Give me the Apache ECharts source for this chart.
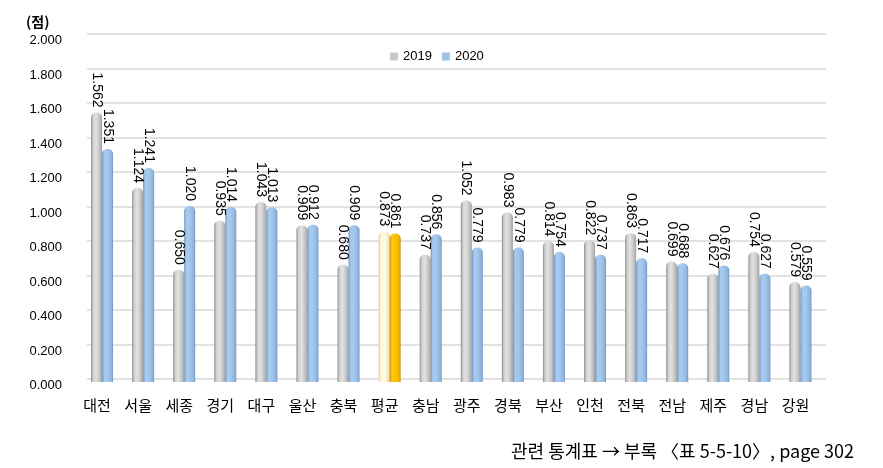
<!DOCTYPE html>
<html><head><meta charset="utf-8">
<script src="https://cdn.jsdelivr.net/npm/echarts@6/dist/echarts.min.js"></script>
<style>html,body{margin:0;padding:0;background:#fff}#c{width:883px;height:468px}</style>
</head><body><div id="c"></div>
<script>
const categories = ['대전','서울','세종','경기','대구','울산','충북','평균','충남','광주','경북','부산','인천','전북','전남','제주','경남','강원'];
const v2019 = [1.562,1.124,0.650,0.935,1.043,0.909,0.680,0.873,0.737,1.052,0.983,0.814,0.822,0.863,0.699,0.627,0.754,0.579];
const v2020 = [1.351,1.241,1.020,1.014,1.013,0.912,0.909,0.861,0.856,0.779,0.779,0.754,0.737,0.717,0.688,0.676,0.627,0.559];
const yTicks = [0,0.2,0.4,0.6,0.8,1.0,1.2,1.4,1.6,1.8,2.0];
const highlight = '평균';

const FONT = '"Liberation Sans", "Noto Sans CJK KR", sans-serif';
const KFONT = '"Noto Sans CJK KR", sans-serif';
function grad(stops){return {type:'linear',x:0,y:0,x2:1,y2:0,colorStops:stops.map(c=>({offset:c[0],color:c[1]}))};}
const grayG = grad([[0,'#8a8a8a'],[0.18,'#cfcfcf'],[0.45,'#e2e2e2'],[0.8,'#c2c2c2'],[1,'#9c9c9c']]);
const blueG = grad([[0,'#6d93bd'],[0.2,'#a6cbef'],[0.5,'#a3c8ec'],[0.85,'#8fb5dc'],[1,'#6f96c0']]);
const creamG = grad([[0,'#d8cfa8'],[0.2,'#fff7d6'],[0.5,'#fffbe6'],[0.85,'#f5ecc4'],[1,'#d6cc9e']]);
const goldG = grad([[0,'#c98f00'],[0.2,'#ffc61a'],[0.5,'#ffc000'],[0.85,'#f0b400'],[1,'#c08800']]);

function mk(vals, hi){
  return vals.map((v,i)=> categories[i]===highlight ? {value:v,itemStyle:{color:hi}} : {value:v});
}
const lbl = {show:true, position:'top', rotate:-90, align:'right', verticalAlign:'middle', distance:5,
  color:'#000', fontSize:14, fontFamily:FONT, formatter:p=>p.value.toFixed(3)};

const chart = echarts.init(document.getElementById('c'));
chart.setOption({
  backgroundColor:'#fff',
  animation:false,
  title:[
    {text:'(점)', left:21, top:10, textStyle:{fontSize:14, fontWeight:'bold', color:'#000', fontFamily:KFONT}},
    {text:'관련 통계표 → 부록 〈표 5-5-10〉, page 302', right:24, top:437, textStyle:{fontSize:18, fontWeight:'normal', color:'#000', fontFamily:KFONT}}
  ],
  legend:{left:385, top:45, itemWidth:8, itemHeight:8, itemGap:10, icon:'rect',
    textStyle:{fontSize:13, color:'#000', fontFamily:FONT},
    data:[{name:'2019', itemStyle:{color:'#c8c8c8'}},{name:'2020', itemStyle:{color:'#9dc3e6'}}]},
  grid:[
    {left:87, right:57, top:34, bottom:89},
    {left:81.5, right:62, top:37, bottom:86}
  ],
  xAxis:[
    {type:'category', gridIndex:0, data:categories, show:false},
    {type:'category', gridIndex:1, data:categories, axisLine:{show:false}, axisTick:{show:false},
      axisLabel:{fontSize:15, color:'#000', fontFamily:KFONT, margin:16, padding:[0,10,0,0], interval:0}}
  ],
  yAxis:[
    {type:'value', gridIndex:0, min:yTicks[0], max:yTicks[yTicks.length-1], interval:0.2,
      axisLine:{show:false}, axisTick:{show:false},
      axisLabel:{fontSize:13, color:'#000', fontFamily:FONT, margin:25, verticalAlign:'top', formatter:v=>v.toFixed(3)},
      splitLine:{lineStyle:{color:'#d9d9d9', width:1.5}}},
    {type:'value', gridIndex:1, min:yTicks[0], max:yTicks[yTicks.length-1], interval:0.2,
      axisLine:{show:false}, axisTick:{show:false}, splitLine:{show:false}, axisLabel:{show:false}}
  ],
  series:[
    {name:'2019', type:'bar', xAxisIndex:1, yAxisIndex:1, barWidth:11, barGap:'0%',
      itemStyle:{color:grayG, borderRadius:[5,5,0,0]}, data:mk(v2019, creamG), label:lbl},
    {name:'2020', type:'bar', xAxisIndex:1, yAxisIndex:1, barWidth:11, barGap:'0%',
      itemStyle:{color:blueG, borderRadius:[5,5,0,0]}, data:mk(v2020, goldG), label:lbl}
  ]
});
</script></body></html>
